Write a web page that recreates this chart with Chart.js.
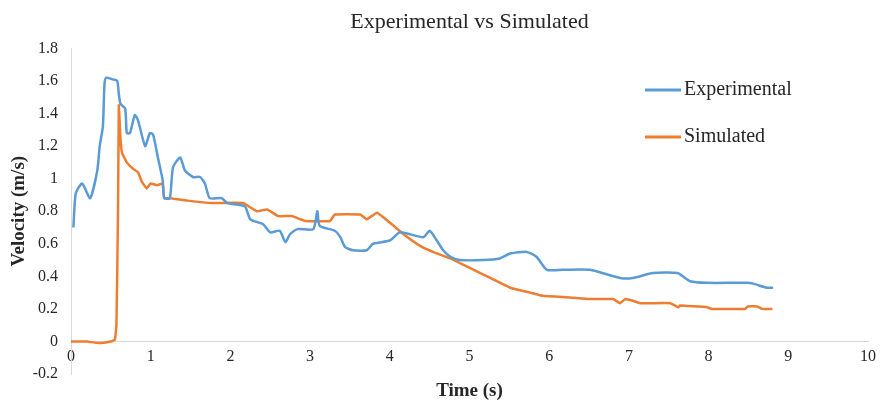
<!DOCTYPE html>
<html>
<head>
<meta charset="utf-8">
<title>Experimental vs Simulated</title>
<script src="https://cdn.jsdelivr.net/npm/chart.js@4.4.1/dist/chart.umd.min.js"></script>
<style>
  html, body { margin: 0; padding: 0; background: #fff; }
  #wrap { width: 883px; height: 401px; }
</style>
</head>
<body>
<div id="wrap"><canvas id="velChart"></canvas></div>
<script>
// ---------- Data ----------
const expTime = [0.03, 0.06, 0.14, 0.24, 0.33, 0.36, 0.40, 0.42, 0.44, 0.52, 0.58, 0.60, 0.62, 0.68, 0.70,
  0.74, 0.80, 0.84, 0.93, 0.99, 1.03, 1.09, 1.15, 1.17, 1.24, 1.28, 1.37, 1.43, 1.53, 1.62, 1.68, 1.74,
  1.89, 1.96, 2.18, 2.25, 2.41, 2.50, 2.62, 2.69, 2.75, 2.84, 3.04, 3.09, 3.12, 3.31, 3.38, 3.44, 3.54,
  3.71, 3.79, 4.00, 4.13, 4.42, 4.50, 4.59, 4.67, 4.76, 4.88, 5.17, 5.38, 5.51, 5.72, 5.84, 5.97, 6.17,
  6.51, 6.89, 7.05, 7.30, 7.61, 7.77, 7.98, 8.48, 8.56, 8.73, 8.81];
const expVel = [0.70, 0.91, 0.97, 0.88, 1.05, 1.20, 1.32, 1.58, 1.62, 1.61, 1.60, 1.52, 1.46, 1.43, 1.28,
  1.28, 1.39, 1.36, 1.20, 1.28, 1.27, 1.13, 0.99, 0.88, 0.88, 1.07, 1.13, 1.05, 1.01, 1.01, 0.97, 0.88,
  0.88, 0.85, 0.83, 0.75, 0.72, 0.67, 0.68, 0.61, 0.66, 0.69, 0.69, 0.80, 0.71, 0.68, 0.64, 0.58, 0.56,
  0.56, 0.60, 0.62, 0.67, 0.64, 0.68, 0.62, 0.56, 0.52, 0.50, 0.50, 0.51, 0.54, 0.55, 0.52, 0.44, 0.44,
  0.44, 0.39, 0.39, 0.42, 0.42, 0.37, 0.36, 0.36, 0.355, 0.33, 0.33];

const simTime = [0, 0.20, 0.35, 0.50, 0.55, 0.57, 0.59, 0.60, 0.62, 0.64, 0.70, 0.78, 0.84, 0.89, 0.95,
  1.00, 1.08, 1.15, 1.17, 1.24, 1.46, 1.78, 2.16, 2.33, 2.46, 2.60, 2.77, 2.94, 3.25, 3.31, 3.63, 3.71,
  3.84, 4.00, 4.17, 4.37, 4.54, 4.76, 5.01, 5.26, 5.51, 5.76, 5.92, 6.26, 6.51, 6.80, 6.89, 6.95, 7.05,
  7.14, 7.52, 7.62, 7.64, 7.98, 8.04, 8.46, 8.49, 8.61, 8.67, 8.80];
const simVel = [0, 0, -0.01, 0, 0.01, 0.10, 0.80, 1.45, 1.25, 1.16, 1.10, 1.06, 1.04, 0.98, 0.94,
  0.97, 0.96, 0.97, 0.88, 0.88, 0.865, 0.85, 0.85, 0.80, 0.81, 0.77, 0.77, 0.74, 0.74, 0.78, 0.78, 0.75,
  0.79, 0.73, 0.66, 0.59, 0.55, 0.51, 0.45, 0.39, 0.33, 0.30, 0.28, 0.27, 0.26, 0.26, 0.235, 0.26, 0.25,
  0.235, 0.235, 0.21, 0.22, 0.21, 0.20, 0.20, 0.215, 0.215, 0.20, 0.20];

const xTickValues = [0, 1, 2, 3, 4, 5, 6, 7, 8, 9, 10];
const yTickValues = [-0.2, 0, 0.2, 0.4, 0.6, 0.8, 1, 1.2, 1.4, 1.6, 1.8];

// ---------- Styling ----------
const FONT = '"Liberation Serif", "Times New Roman", serif';
const BLUE = "#5b9bd5";
const ORANGE = "#ed7d31";
const AXIS_GREY = "#d9d9d9";
const TEXT = "#262626";

const toPoints = (xs, ys) => xs.map((x, i) => ({ x: x, y: ys[i] }));
// Excel "General" number format: 1 not 1.0, 0 not 0.0
const generalFormat = (v) => String(+Number(v).toFixed(1));

// Excel-style legend sitting inside the plot area, top right
const legendSpot = { lineStart: 645, lineEnd: 681, textX: 684, firstY: 90, gap: 47 };
const insideLegend = {
  id: "insideLegend",
  afterDraw(chart) {
    const ctx = chart.ctx;
    ctx.save();
    ctx.font = "20px " + FONT;
    ctx.textBaseline = "middle";
    ctx.textAlign = "left";
    chart.data.datasets.forEach((ds, i) => {
      const y = legendSpot.firstY + i * legendSpot.gap;
      ctx.strokeStyle = ds.borderColor;
      ctx.lineWidth = 3;
      ctx.beginPath();
      ctx.moveTo(legendSpot.lineStart, y);
      ctx.lineTo(legendSpot.lineEnd, y);
      ctx.stroke();
      ctx.fillStyle = TEXT;
      ctx.fillText(ds.label, legendSpot.textX, y);
    });
    ctx.restore();
  },
};

new Chart(document.getElementById("velChart"), {
  type: "line",
  data: {
    datasets: [
      {
        label: "Experimental",
        data: toPoints(expTime, expVel),
        borderColor: BLUE,
        borderWidth: 2.5,
        pointRadius: 0,
        tension: 0.2,
      },
      {
        label: "Simulated",
        data: toPoints(simTime, simVel),
        borderColor: ORANGE,
        borderWidth: 2.5,
        pointRadius: 0,
        tension: 0.1,
      },
    ],
  },
  options: {
    responsive: true,
    maintainAspectRatio: false,
    animation: false,
    layout: { padding: { top: 0, left: 0, right: 15, bottom: 27 } },
    plugins: {
      legend: { display: false },
      tooltip: { enabled: false },
      title: {
        display: true,
        text: "Experimental vs Simulated",
        fullSize: false,
        color: TEXT,
        font: { family: FONT, size: 22, weight: "normal" },
        padding: { top: 9, bottom: 13 },
      },
    },
    scales: {
      x: {
        type: "linear",
        min: 0,
        max: 10,
        position: { y: 0 },
        afterBuildTicks: (scale) => { scale.ticks = xTickValues.map(v => ({ value: v })); },
        grid: { display: false, drawTicks: false },
        border: { display: true, color: AXIS_GREY, width: 1 },
        ticks: { color: TEXT, font: { family: FONT, size: 16 }, padding: 6, maxRotation: 0, callback: generalFormat },
        title: {
          display: true,
          text: "Time (s)",
          color: TEXT,
          font: { family: FONT, size: 19, weight: "bold" },
          padding: { top: 7, bottom: 0 },
        },
      },
      y: {
        type: "linear",
        min: -0.2,
        max: 1.8,
        afterBuildTicks: (scale) => { scale.ticks = yTickValues.map(v => ({ value: v })); },
        afterFit: (scale) => { scale.width = 71; },
        grid: { display: false, drawTicks: false },
        border: { display: true, color: AXIS_GREY, width: 1 },
        ticks: { color: TEXT, font: { family: FONT, size: 16 }, padding: 13, callback: generalFormat },
        title: {
          display: true,
          text: "Velocity (m/s)",
          color: TEXT,
          font: { family: FONT, size: 19, weight: "bold" },
          padding: { top: 8, bottom: 0 },
        },
      },
    },
  },
  plugins: [insideLegend],
});
</script>
</body>
</html>
